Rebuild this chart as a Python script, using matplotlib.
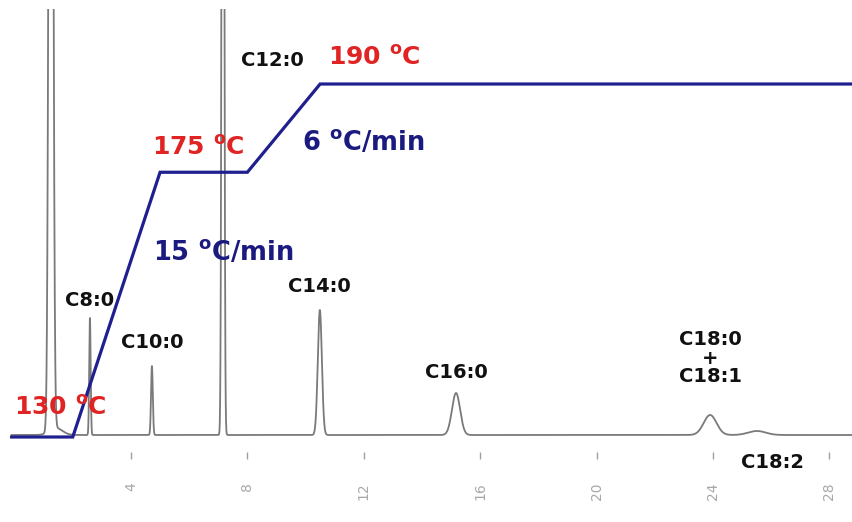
import numpy as np
import matplotlib
matplotlib.use('Agg')
import matplotlib.pyplot as plt

W, H = 853, 522

# peak table: retention time (min), height, sigma (min)
peak_rt = [1.25, 1.42, 2.59, 4.72, 7.16, 10.49, 15.17, 23.90, 25.51]
peak_height = [1500, 7, 117, 69, 1500, 125, 42, 20, 4]
peak_sigma = [0.06, 0.22, 0.025, 0.03, 0.035, 0.07, 0.14, 0.22, 0.3]

# oven temperature program
prog_time = [-0.1, 2, 5, 8, 10.5, 29]
prog_temp = [130, 130, 175, 175, 190, 190]

ticks = [4, 8, 12, 16, 20, 24, 28]

# peak labels (text, retention time, label y in px from top)
lab_text = ['C8:0', 'C10:0', 'C12:0', 'C14:0', 'C16:0', 'C18:0\n+\nC18:1', 'C18:2']
lab_rt = [2.59, 4.72, 8.85, 10.49, 15.17, 23.90, 26.05]
lab_y = [300, 342, 60, 287, 373, 358, 462]


def px(x, y):
    return x / W, 1 - y / H


fig = plt.figure(figsize=(W / 100, H / 100), dpi=100)
ax_bot, ax_top = 452, 9
ax = fig.add_axes([0, 1 - ax_bot / H, 1, (ax_bot - ax_top) / H])

t = np.linspace(-0.1, 28.9, 8000)
sig = np.zeros_like(t)
for rt, h, s in zip(peak_rt, peak_height, peak_sigma):
    sig += h * np.exp(-0.5 * ((t - rt) / s) ** 2)
ax.plot(t, sig, color='#7a7a7a', lw=1.3)
ax.set_xlim(-0.50, 28.81)
ax.set_ylim(-17, 426)

for sp in ax.spines.values():
    sp.set_visible(False)
ax.set_yticks([])
ax.set_xticks(ticks)
ax.set_xticklabels([str(v) for v in ticks], rotation=90, color='#a8a8a8', fontsize=10)
ax.tick_params(axis='x', length=5, width=1, color='#a0a0a0', pad=17)

# temperature program on a twin axis
tx = ax.twinx()
tx.set_ylim(127.45, 202.75)
tx.set_xlim(-0.50, 28.81)
tx.plot(prog_time, prog_temp, color='#1f1f8f', lw=2.3, solid_joinstyle='miter')
tx.axis('off')

for txt, rt, y in zip(lab_text, lab_rt, lab_y):
    xp = ax.transData.transform((rt, 0))[0]
    fig.text(xp / W, 1 - y / H, txt, ha='center', va='center', fontsize=14,
             fontweight='bold', color='#111111', linespacing=0.95)

red = '#e02424'
navy = '#1a1a80'
deg = r'$^{\mathbf{o}}$'
fig.text(*px(14, 408), '130 ' + deg + 'C', color=red, fontsize=18, fontweight='bold', va='center')
fig.text(*px(152, 148), '175 ' + deg + 'C', color=red, fontsize=18, fontweight='bold', va='center')
fig.text(*px(328, 58), '190 ' + deg + 'C', color=red, fontsize=18, fontweight='bold', va='center')
fig.text(*px(153, 252), '15 ' + deg + 'C/min', color=navy, fontsize=18.5, fontweight='bold', va='center')
fig.text(*px(302, 143), '6 ' + deg + 'C/min', color=navy, fontsize=18.5, fontweight='bold', va='center')

fig.savefig('out.png', dpi=100)
